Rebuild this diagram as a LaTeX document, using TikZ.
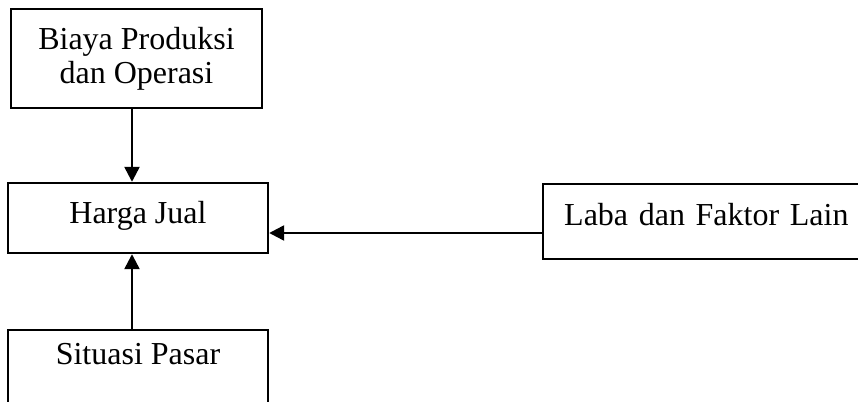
\documentclass[tikz,border=0pt]{standalone}
\usepackage{fontspec}
\setmainfont{Liberation Serif}
\usetikzlibrary{arrows.meta}
\begin{document}
\begin{tikzpicture}[x=1pt,y=-1pt,
  box/.style={draw=black, line width=2.4pt, rectangle, inner sep=0pt,
              font=\fontsize{32}{34}\selectfont},
  arr/.style={draw=black, line width=2.4pt, -{Triangle[length=15pt,width=15pt]}}]
  \useasboundingbox (0,0) rectangle (858,401);
  \clip (0,0) rectangle (858,401);

  % cost box (two lines)
  \node[box, align=center, minimum width=251pt, minimum height=99pt]
    (biaya) at (136.5,58.5) {Biaya Produksi\\dan Operasi};

  % selling price
  \node[box, minimum width=260pt, text height=40pt, text depth=30pt]
    (harga) at (138,218) {Harga Jual};

  % market situation, running off the lower edge
  \node[box, anchor=north, minimum width=260pt, text height=34pt, text depth=60pt]
    (situasi) at (138,329) {Situasi Pasar};

  % profit and other factors, running off the right edge
  \node[box, anchor=west, inner xsep=21pt, text width=300pt, align=left,
        text height=41pt, text depth=34pt]
    (laba) at (542,221.5) {Laba dan Faktor Lain};

  % connectors
  \draw[arr] ([xshift=-4.5pt]biaya.south) -- ([xshift=-6pt]harga.north);
  \draw[arr] ([xshift=-6pt]situasi.north) -- ([xshift=-6pt]harga.south);
  \draw[arr] ([yshift=-11.5pt]laba.west) -- ([yshift=-15pt]harga.east);
\end{tikzpicture}
\end{document}
